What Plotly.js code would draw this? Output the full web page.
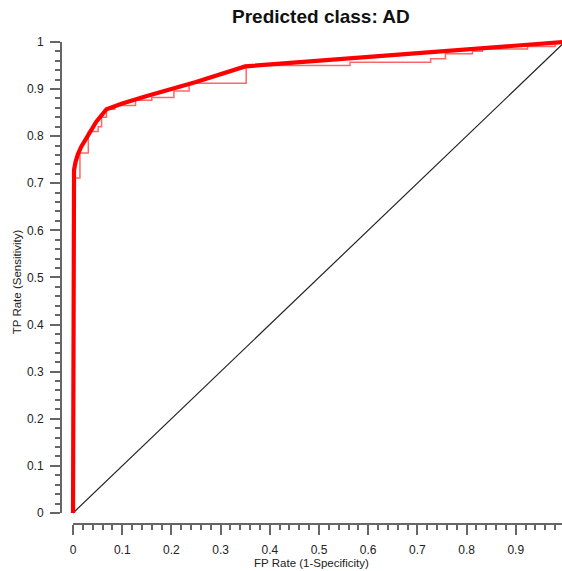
<!DOCTYPE html>
<html>
<head>
<meta charset="utf-8">
<script src="https://cdn.plot.ly/plotly-3.0.1.min.js"></script>
<style>html,body{margin:0;padding:0;background:#fff;}#chart{width:562px;height:571px;}</style>
</head>
<body>
<div id="chart"></div>
<script>
// Smoothed ROC curve (thick)
const smoothFPR = [0, 0, 0.002, 0.005, 0.010, 0.017, 0.025, 0.035, 0.047, 0.068, 0.10, 0.15, 0.20, 0.25, 0.35, 0.60, 0.83, 1.0];
const smoothTPR = [0, 0.711, 0.728, 0.745, 0.762, 0.778, 0.793, 0.810, 0.830, 0.857, 0.869, 0.885, 0.900, 0.915, 0.948, 0.968, 0.988, 1.0];

// Empirical ROC curve (thin staircase)
const empFPR = [0, 0, 0.014, 0.014, 0.031, 0.031, 0.051, 0.051, 0.058, 0.058, 0.068, 0.068, 0.085, 0.085, 0.127, 0.127, 0.16, 0.16, 0.205, 0.205, 0.236, 0.236, 0.352, 0.352, 0.563, 0.563, 0.727, 0.727, 0.757, 0.757, 0.812, 0.812, 0.832, 0.832, 0.924, 0.924, 0.98, 0.98, 1.0];
const empTPR = [0, 0.711, 0.711, 0.764, 0.764, 0.810, 0.810, 0.820, 0.820, 0.840, 0.840, 0.857, 0.857, 0.865, 0.865, 0.876, 0.876, 0.882, 0.882, 0.896, 0.896, 0.912, 0.912, 0.950, 0.950, 0.957, 0.957, 0.964, 0.964, 0.975, 0.975, 0.980, 0.980, 0.985, 0.985, 0.990, 0.990, 1.0, 1.0];

// Chance diagonal
const diagFPR = [0, 1];
const diagTPR = [0, 1];

// Ticks
const xTickVals = [0, 0.1, 0.2, 0.3, 0.4, 0.5, 0.6, 0.7, 0.8, 0.9];
const xTickText = ["0", "0.1", "0.2", "0.3", "0.4", "0.5", "0.6", "0.7", "0.8", "0.9"];
const yTickVals = [0, 0.1, 0.2, 0.3, 0.4, 0.5, 0.6, 0.7, 0.8, 0.9, 1];
const yTickText = ["0", "0.1", "0.2", "0.3", "0.4", "0.5", "0.6", "0.7", "0.8", "0.9", "1"];
const xMinorVals = [];
for (let i = 0; i <= 49; i++) xMinorVals.push(+(i * 0.02).toFixed(2));
const yMinorVals = [];
for (let i = 0; i <= 50; i++) yMinorVals.push(+(i * 0.02).toFixed(2));

const font = "Liberation Sans, Arial, Helvetica, sans-serif";
const axisCol = "#666";

const traces = [
  {x: diagFPR, y: diagTPR, mode: "lines", line: {color: "#222", width: 1.2}, hoverinfo: "skip"},
  {x: empFPR, y: empTPR, mode: "lines", line: {color: "rgba(255,0,0,0.6)", width: 1.5}, hoverinfo: "skip"},
  {x: smoothFPR, y: smoothTPR, mode: "lines", line: {color: "#ff0000", width: 4.2}, hoverinfo: "skip"}
];

const layout = {
  width: 562, height: 571,
  margin: {l: 61, r: 0, t: 40, b: 47},
  paper_bgcolor: "#fff", plot_bgcolor: "#fff",
  showlegend: false,
  font: {family: font, size: 12, color: "#222"},
  title: {text: "<b>Predicted class: AD</b>", font: {family: font, size: 19, color: "#111"},
          xref: "container", x: 0.571, xanchor: "center", yref: "container", y: 0.972, yanchor: "middle"},
  xaxis: {
    range: [-0.0245, 0.994], showgrid: false, zeroline: false, showline: false,
    tickmode: "array", tickvals: xTickVals, ticktext: xTickText,
    ticks: "outside", ticklen: 10, tickwidth: 2, tickcolor: axisCol, ticklabelstandoff: 5,
    tickfont: {family: font, size: 12, color: "#222"},
    minor: {tickmode: "array", tickvals: xMinorVals, ticks: "outside", ticklen: 5, tickwidth: 2, tickcolor: axisCol},
    title: {text: "FP Rate (1-Specificity)", font: {family: font, size: 11.5, color: "#222"}, standoff: 0}
  },
  yaxis: {
    range: [-0.0234, 1.004], showgrid: false, zeroline: false, showline: false,
    tickmode: "array", tickvals: yTickVals, ticktext: yTickText,
    ticks: "outside", ticklen: 10, tickwidth: 2, tickcolor: axisCol, ticklabelstandoff: 4,
    tickfont: {family: font, size: 12, color: "#222"},
    minor: {tickmode: "array", tickvals: yMinorVals, ticks: "outside", ticklen: 5, tickwidth: 2, tickcolor: axisCol},
    title: {text: "TP Rate (Sensitivity)", font: {family: font, size: 11.5, color: "#222"}, standoff: 2}
  },
  shapes: [
    {type: "line", xref: "paper", yref: "y", x0: 0, x1: 0, y0: 0, y1: 1, line: {color: axisCol, width: 2}},
    {type: "line", xref: "x", yref: "paper", x0: 0, x1: 0.994, y0: 0, y1: 0, line: {color: axisCol, width: 2}}
  ]
};

Plotly.newPlot("chart", traces, layout, {displayModeBar: false, staticPlot: true});
</script>
</body>
</html>
